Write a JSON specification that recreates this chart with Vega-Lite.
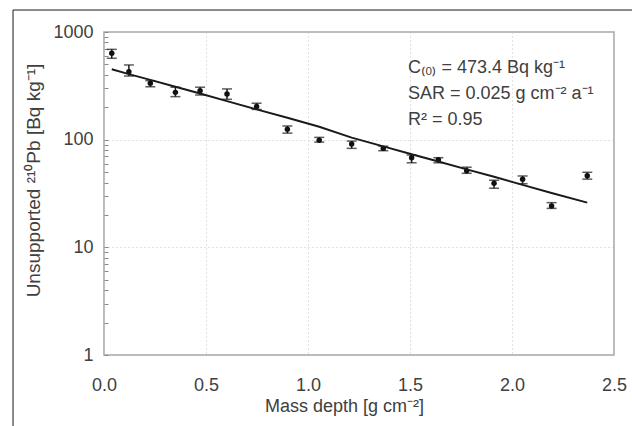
{
  "$schema": "https://vega.github.io/schema/vega-lite/v6.json",
  "width": 510,
  "height": 323,
  "autosize": {"type": "none"},
  "padding": {"left": 104, "top": 32, "right": 18, "bottom": 71},
  "background": "white",
  "config": {
    "font": "Liberation Sans",
    "view": {"stroke": "#a6a6a6", "strokeWidth": 1.5},
    "axis": {
      "labelFont": "Liberation Sans",
      "titleFont": "Liberation Sans",
      "labelColor": "#404040",
      "titleColor": "#404040",
      "labelFontSize": 18,
      "titleFontSize": 18,
      "titleFontWeight": "normal",
      "domain": false,
      "gridColor": "#c4c4c4",
      "gridDash": [1, 3],
      "gridWidth": 1
    }
  },
  "datasets": {
    "profile": [
      {"depth": 0.038, "pb": 634, "lo": 570, "hi": 690, "fit": 451},
      {"depth": 0.122, "pb": 428, "lo": 390, "hi": 494, "fit": 406},
      {"depth": 0.227, "pb": 334, "lo": 310, "hi": 353, "fit": 359},
      {"depth": 0.350, "pb": 275, "lo": 251, "hi": 307, "fit": 310},
      {"depth": 0.471, "pb": 285, "lo": 260, "hi": 307, "fit": 268},
      {"depth": 0.603, "pb": 266, "lo": 237, "hi": 296, "fit": 228},
      {"depth": 0.748, "pb": 203, "lo": 191, "hi": 218, "fit": 191},
      {"depth": 0.899, "pb": 125, "lo": 115, "hi": 134, "fit": 160},
      {"depth": 1.055, "pb": 99, "lo": 95, "hi": 105, "fit": 132},
      {"depth": 1.214, "pb": 91, "lo": 83, "hi": 97, "fit": 104.5},
      {"depth": 1.369, "pb": 83, "lo": 79, "hi": 87, "fit": 86.7},
      {"depth": 1.508, "pb": 68, "lo": 61, "hi": 72, "fit": 73.3},
      {"depth": 1.639, "pb": 65, "lo": 61, "hi": 68, "fit": 62.6},
      {"depth": 1.778, "pb": 51.5, "lo": 48.7, "hi": 55.5, "fit": 53},
      {"depth": 1.912, "pb": 39.4, "lo": 35.4, "hi": 42, "fit": 45.2},
      {"depth": 2.052, "pb": 43, "lo": 39, "hi": 46, "fit": 38},
      {"depth": 2.194, "pb": 24.2, "lo": 23, "hi": 26, "fit": 32},
      {"depth": 2.369, "pb": 46.3, "lo": 43, "hi": 49.8, "fit": 26}
    ],
    "single": [{"k": 1}]
  },
  "layer": [
    {
      "data": {"name": "profile"},
      "mark": {"type": "errorbar", "color": "#1a1a1a", "thickness": 1.5, "ticks": {"size": 10, "thickness": 1.5, "color": "#1a1a1a"}},
      "encoding": {
        "x": {
          "field": "depth",
          "type": "quantitative",
          "scale": {"domain": [0, 2.5], "nice": false, "zero": false},
          "axis": {
            "title": "Mass depth [g cm⁻²]",
            "values": [0, 0.5, 1, 1.5, 2, 2.5],
            "format": ".1f",
            "ticks": false,
            "labelPadding": 21,
            "titlePadding": 3,
            "titleX": 240,
            "labelFlush": false
          }
        },
        "y": {
          "field": "lo",
          "type": "quantitative",
          "scale": {"type": "log", "domain": [1, 1000], "nice": false},
          "axis": {
            "title": "Unsupported ²¹⁰Pb [Bq kg⁻¹]",
            "titleFontSize": 19,
            "values": [1, 2, 3, 4, 5, 6, 7, 8, 9, 10, 20, 30, 40, 50, 60, 70, 80, 90, 100, 200, 300, 400, 500, 600, 700, 800, 900, 1000],
            "labelExpr": "(datum.value == 1 || datum.value == 10 || datum.value == 100 || datum.value == 1000) ? format(datum.value, 'd') : ''",
            "tickSize": -4,
            "tickColor": "#8a8a8a",
            "labelPadding": 15,
            "titlePadding": 9,
            "titleY": 148,
            "gridOpacity": {"condition": {"test": "datum.value == 10 || datum.value == 100", "value": 1}, "value": 0}
          }
        },
        "y2": {"field": "hi"}
      }
    },
    {
      "data": {"name": "profile"},
      "mark": {"type": "point", "filled": true, "color": "#111111", "size": 30, "opacity": 1},
      "encoding": {
        "x": {"field": "depth", "type": "quantitative"},
        "y": {"field": "pb", "type": "quantitative"}
      }
    },
    {
      "data": {"name": "profile"},
      "mark": {"type": "line", "color": "#1a1a1a", "strokeWidth": 2},
      "encoding": {
        "x": {"field": "depth", "type": "quantitative"},
        "y": {"field": "fit", "type": "quantitative"}
      }
    },
    {
      "data": {"name": "single"},
      "mark": {"type": "rule", "color": "#1a1a1a", "strokeWidth": 1},
      "encoding": {
        "x": {"datum": -0.446, "type": "quantitative"},
        "y": {"datum": 1600, "type": "quantitative"},
        "y2": {"datum": 0.2}
      }
    },
    {
      "data": {"name": "single"},
      "mark": {"type": "rule", "color": "#1a1a1a", "strokeWidth": 1},
      "encoding": {
        "x": {"datum": -0.446, "type": "quantitative"},
        "x2": {"datum": 2.7},
        "y": {"datum": 1600, "type": "quantitative"}
      }
    },
    {
      "data": {"name": "single"},
      "mark": {
        "type": "text",
        "text": ["C₍₀₎ = 473.4 Bq kg⁻¹", "SAR = 0.025 g cm⁻² a⁻¹", "R² = 0.95"],
        "align": "left",
        "baseline": "alphabetic",
        "fontSize": 18,
        "fontWeight": "normal",
        "lineHeight": 26,
        "color": "#404040",
        "font": "Liberation Sans"
      },
      "encoding": {
        "x": {"datum": 1.49, "type": "quantitative"},
        "y": {"datum": 420, "type": "quantitative"}
      }
    }
  ]
}
